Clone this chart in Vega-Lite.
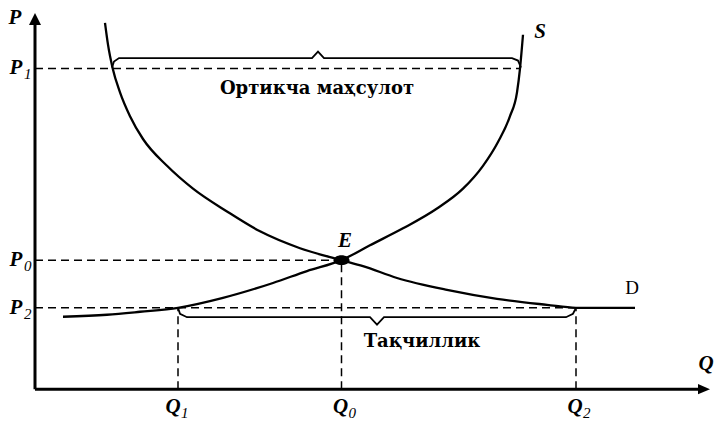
{
  "$schema": "https://vega.github.io/schema/vega-lite/v6.json",
  "width": 715,
  "height": 421,
  "autosize": {"type": "fit", "contains": "padding"},
  "padding": 0,
  "background": "white",
  "config": {"view": {"stroke": null}},
  "datasets": {
    "guides": [
      {"q": 0, "p": 64.6, "q2": 97, "p2": 64.6},
      {"q": 0, "p": 26, "q2": 61.3, "p2": 26},
      {"q": 0, "p": 16.4, "q2": 108.2, "p2": 16.4},
      {"q": 28.6, "p": 0, "q2": 28.6, "p2": 16.4},
      {"q": 61.3, "p": 0, "q2": 61.3, "p2": 26},
      {"q": 108.2, "p": 0, "q2": 108.2, "p2": 16.4}
    ],
    "axes": [
      {"q": 0, "p": 0, "q2": 0, "p2": 74.6},
      {"q": 0, "p": 0, "q2": 133, "p2": 0}
    ],
    "arrows": [
      {"q": 0, "p": 75.8, "dir": "up"},
      {"q": 135, "p": 0, "dir": "right"}
    ],
    "demand": [
      {"i": 1, "q": 14, "p": 73.8},
      {"i": 2, "q": 14.6, "p": 69.4},
      {"i": 3, "q": 15.54, "p": 64.6},
      {"i": 4, "q": 17, "p": 59.8},
      {"i": 5, "q": 19, "p": 55},
      {"i": 6, "q": 21.6, "p": 50.4},
      {"i": 7, "q": 26.4, "p": 45},
      {"i": 8, "q": 31.6, "p": 40.4},
      {"i": 9, "q": 38.4, "p": 35.8},
      {"i": 10, "q": 45, "p": 31.8},
      {"i": 11, "q": 53, "p": 28.4},
      {"i": 12, "q": 61.3, "p": 26},
      {"i": 13, "q": 65.6, "p": 24.8},
      {"i": 14, "q": 72.4, "p": 22.4},
      {"i": 15, "q": 82.4, "p": 20},
      {"i": 16, "q": 92.4, "p": 18.2},
      {"i": 17, "q": 102.4, "p": 17},
      {"i": 18, "q": 108.2, "p": 16.4},
      {"i": 19, "q": 120, "p": 16.4}
    ],
    "supply": [
      {"i": 1, "q": 5.6, "p": 14.6},
      {"i": 2, "q": 14.4, "p": 15},
      {"i": 3, "q": 21, "p": 15.6},
      {"i": 4, "q": 28.6, "p": 16.4},
      {"i": 5, "q": 37.6, "p": 18.4},
      {"i": 6, "q": 47.6, "p": 21.4},
      {"i": 7, "q": 54.4, "p": 23.8},
      {"i": 8, "q": 61.3, "p": 26},
      {"i": 9, "q": 67, "p": 29},
      {"i": 10, "q": 73.6, "p": 32.4},
      {"i": 11, "q": 80.4, "p": 36.4},
      {"i": 12, "q": 85.6, "p": 40.4},
      {"i": 13, "q": 89.6, "p": 45},
      {"i": 14, "q": 92.6, "p": 49.8},
      {"i": 15, "q": 95, "p": 55},
      {"i": 16, "q": 96.4, "p": 59.8},
      {"i": 17, "q": 97, "p": 64.6},
      {"i": 18, "q": 97.6, "p": 71.4}
    ],
    "braces": [
      {"brace": "top", "i": 1, "q": 15.4, "p": 64.8},
      {"brace": "top", "i": 2, "q": 15.8, "p": 66},
      {"brace": "top", "i": 3, "q": 16.8, "p": 66.7},
      {"brace": "top", "i": 4, "q": 55.4, "p": 66.7},
      {"brace": "top", "i": 5, "q": 56.6, "p": 68},
      {"brace": "top", "i": 6, "q": 57.8, "p": 66.7},
      {"brace": "top", "i": 7, "q": 95.4, "p": 66.7},
      {"brace": "top", "i": 8, "q": 96.6, "p": 66.2},
      {"brace": "top", "i": 9, "q": 97.2, "p": 64.8},
      {"brace": "bottom", "i": 1, "q": 28.6, "p": 16.4},
      {"brace": "bottom", "i": 2, "q": 29, "p": 15.2},
      {"brace": "bottom", "i": 3, "q": 30.4, "p": 14.5},
      {"brace": "bottom", "i": 4, "q": 67, "p": 14.5},
      {"brace": "bottom", "i": 5, "q": 68.4, "p": 13},
      {"brace": "bottom", "i": 6, "q": 69.8, "p": 14.5},
      {"brace": "bottom", "i": 7, "q": 106.2, "p": 14.5},
      {"brace": "bottom", "i": 8, "q": 107.6, "p": 15.2},
      {"brace": "bottom", "i": 9, "q": 108.2, "p": 16.4}
    ],
    "equilibrium": [
      {"q": 61.3, "p": 26}
    ],
    "letters": [
      {"text": "P", "sub": "", "q": -4, "p": 74.8},
      {"text": "P", "sub": "1", "q": -3.8, "p": 64.8},
      {"text": "P", "sub": "0", "q": -3.8, "p": 26},
      {"text": "P", "sub": "2", "q": -3.8, "p": 16.4},
      {"text": "Q", "sub": "", "q": 134.2, "p": 5},
      {"text": "Q", "sub": "1", "q": 27.6, "p": -3.6},
      {"text": "Q", "sub": "0", "q": 61.1, "p": -3.6},
      {"text": "Q", "sub": "2", "q": 108, "p": -3.6},
      {"text": "E", "sub": "", "q": 62, "p": 29.8},
      {"text": "S", "sub": "", "q": 101, "p": 72}
    ],
    "upright": [
      {"text": "D", "q": 119.4, "p": 20.4}
    ],
    "notes": [
      {"text": "Ортикча маҳсулот", "q": 56.4, "p": 60.4},
      {"text": "Тақчиллик", "q": 77.4, "p": 9.5}
    ]
  },
  "encoding": {
    "x": {"field": "q", "type": "quantitative", "scale": {"domain": [-7, 136], "nice": false, "zero": false}, "axis": null},
    "y": {"field": "p", "type": "quantitative", "scale": {"domain": [-5.8, 78.4], "nice": false, "zero": false}, "axis": null}
  },
  "layer": [
    {
      "data": {"name": "guides"},
      "mark": {"type": "rule", "color": "black", "strokeWidth": 1.5, "strokeDash": [8, 5]},
      "encoding": {"x2": {"field": "q2"}, "y2": {"field": "p2"}}
    },
    {
      "data": {"name": "axes"},
      "mark": {"type": "rule", "color": "black", "strokeWidth": 3},
      "encoding": {"x2": {"field": "q2"}, "y2": {"field": "p2"}}
    },
    {
      "data": {"name": "arrows"},
      "mark": {"type": "point", "filled": true, "color": "black", "opacity": 1, "size": 144},
      "encoding": {
        "shape": {"field": "dir", "type": "nominal", "scale": {"domain": ["up", "right"], "range": ["M0,0L1,2L-1,2Z", "M0,0L-2,-0.85L-2,0.85Z"]}, "legend": null}
      }
    },
    {
      "data": {"name": "demand"},
      "mark": {"type": "line", "color": "black", "strokeWidth": 2.3, "interpolate": "monotone"},
      "encoding": {"order": {"field": "i", "type": "quantitative"}}
    },
    {
      "data": {"name": "supply"},
      "mark": {"type": "line", "color": "black", "strokeWidth": 2.3, "interpolate": "monotone"},
      "encoding": {"order": {"field": "i", "type": "quantitative"}}
    },
    {
      "data": {"name": "braces"},
      "mark": {"type": "line", "color": "black", "strokeWidth": 1.8, "interpolate": "linear"},
      "encoding": {"detail": {"field": "brace"}, "order": {"field": "i", "type": "quantitative"}}
    },
    {
      "data": {"name": "equilibrium"},
      "mark": {"type": "point", "filled": true, "color": "black", "opacity": 1, "size": 256, "shape": "M-1,0A1,0.62,0,1,0,1,0A1,0.62,0,1,0,-1,0Z"},
      "encoding": {}
    },
    {
      "data": {"name": "letters"},
      "mark": {"type": "text", "font": "Liberation Serif", "fontStyle": "italic", "fontWeight": "bold", "fontSize": 21, "align": "center", "baseline": "middle", "color": "black"},
      "encoding": {"text": {"field": "text"}}
    },
    {
      "data": {"name": "letters"},
      "transform": [{"filter": "datum.sub != ''"}],
      "mark": {"type": "text", "font": "Liberation Serif", "fontStyle": "italic", "fontSize": 15, "align": "left", "baseline": "middle", "dx": 8, "dy": 6, "color": "black"},
      "encoding": {"text": {"field": "sub"}}
    },
    {
      "data": {"name": "upright"},
      "mark": {"type": "text", "font": "Liberation Serif", "fontSize": 19, "align": "center", "baseline": "middle", "color": "black"},
      "encoding": {"text": {"field": "text"}}
    },
    {
      "data": {"name": "notes"},
      "mark": {"type": "text", "font": "DejaVu Serif", "fontWeight": "bold", "fontSize": 18, "align": "center", "baseline": "middle", "color": "black"},
      "encoding": {"text": {"field": "text"}}
    }
  ]
}
